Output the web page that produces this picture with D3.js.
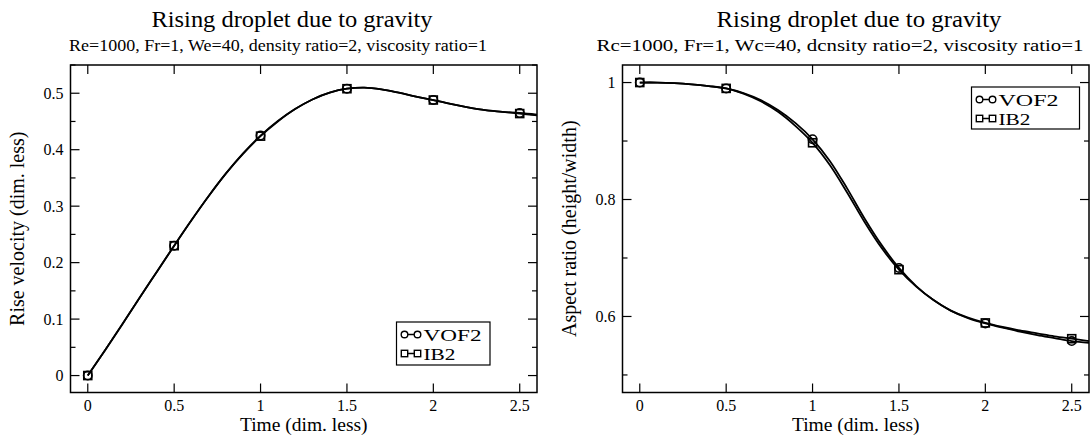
<!DOCTYPE html>
<html><head><meta charset="utf-8">
<script src="https://cdn.jsdelivr.net/npm/d3@7"></script>
<style>body{margin:0;background:#fff}svg{display:block}text{font-family:"Liberation Serif","Times New Roman",serif;fill:#000}</style>
</head><body><svg id="c" width="1090" height="446"></svg>
<script>
const title = "Rising droplet due to gravity";
const subtitleL = "Re=1000, Fr=1, We=40, density ratio=2, viscosity ratio=1";
const subtitleR = "Rc=1000, Fr=1, Wc=40, dcnsity ratio=2, viscosity ratio=1";
const xLabel = "Time (dim. less)";
const yLabelL = "Rise velocity (dim. less)";
const yLabelR = "Aspect ratio (height/width)";
const seriesNames = ["VOF2", "IB2"];

const time = [0,0.1,0.2,0.3,0.4,0.5,0.6,0.7,0.8,0.9,1.0,1.1,1.2,1.3,1.4,1.5,1.6,1.7,1.8,1.9,2.0,2.1,2.2,2.3,2.4,2.5,2.6];
const velVOF2 = [0,0.045,0.091,0.138,0.184,0.230,0.275,0.318,0.358,0.394,0.425,0.451,0.472,0.489,0.501,0.508,0.510,0.507,0.501,0.494,0.488,0.481,0.475,0.470,0.467,0.465,0.462];
const velIB2  = [0,0.045,0.091,0.138,0.184,0.230,0.275,0.318,0.358,0.393,0.424,0.450,0.472,0.489,0.501,0.508,0.510,0.507,0.501,0.494,0.488,0.481,0.475,0.470,0.467,0.464,0.461];
const arVOF2 = [1.0,1.0,0.999,0.997,0.994,0.990,0.982,0.970,0.953,0.931,0.903,0.866,0.819,0.768,0.722,0.683,0.652,0.628,0.610,0.597,0.588,0.581,0.574,0.568,0.563,0.558,0.555];
const arIB2  = [1.0,1.0,0.999,0.997,0.994,0.990,0.981,0.968,0.950,0.926,0.897,0.859,0.812,0.762,0.717,0.680,0.651,0.628,0.610,0.598,0.589,0.582,0.576,0.571,0.566,0.562,0.558];

const xTicks = [0,0.5,1,1.5,2,2.5];
const xTickLabels = ["0","0.5","1","1.5","2","2.5"];
const yTicksL = [0,0.1,0.2,0.3,0.4,0.5];
const yTickLabelsL = ["0","0.1","0.2","0.3","0.4","0.5"];
const yMinorL = [-0.05,0.05,0.15,0.25,0.35,0.45,0.55];
const yTicksR = [0.6,0.8,1.0];
const yTickLabelsR = ["0.6","0.8","1"];
const yMinorR = [0.5,0.7,0.9];
const markerTimes = [0,0.5,1,1.5,2,2.5];

const svg = d3.select("#c");

function panel(o){
  const g = svg.append("g");
  const x = d3.scaleLinear().domain([-0.1,2.6]).range([o.x0,o.x1]);
  const y = d3.scaleLinear().domain(o.ydom).range([o.y1,o.y0]);
  const major = 9, minor = 5;
  xTicks.forEach(v=>{
    g.append("line").attr("x1",x(v)).attr("x2",x(v)).attr("y1",o.y1).attr("y2",o.y1-major).attr("stroke","#000").attr("stroke-width",1.2);
    g.append("line").attr("x1",x(v)).attr("x2",x(v)).attr("y1",o.y0).attr("y2",o.y0+major).attr("stroke","#000").attr("stroke-width",1.2);
  });
  o.yTicks.forEach(v=>{
    g.append("line").attr("x1",o.x0).attr("x2",o.x0+major).attr("y1",y(v)).attr("y2",y(v)).attr("stroke","#000").attr("stroke-width",1.2);
    g.append("line").attr("x1",o.x1).attr("x2",o.x1-major).attr("y1",y(v)).attr("y2",y(v)).attr("stroke","#000").attr("stroke-width",1.2);
  });
  o.yMinor.filter(v=>v>=o.ydom[0]&&v<=o.ydom[1]).forEach(v=>{
    g.append("line").attr("x1",o.x0).attr("x2",o.x0+minor).attr("y1",y(v)).attr("y2",y(v)).attr("stroke","#000").attr("stroke-width",1.2);
    g.append("line").attr("x1",o.x1).attr("x2",o.x1-minor).attr("y1",y(v)).attr("y2",y(v)).attr("stroke","#000").attr("stroke-width",1.2);
  });
  xTicks.forEach((v,i)=>{
    g.append("text").attr("x",x(v)).attr("y",o.y1+18).attr("text-anchor","middle").attr("font-size",16).text(xTickLabels[i]);
  });
  o.yTicks.forEach((v,i)=>{
    g.append("text").attr("x",o.x0-7).attr("y",y(v)+5.5).attr("text-anchor","end").attr("font-size",16).text(o.yLabels[i]);
  });
  const clipId = "clip"+o.id;
  svg.append("clipPath").attr("id",clipId).append("rect").attr("x",o.x0).attr("y",o.y0).attr("width",o.x1-o.x0).attr("height",o.y1-o.y0);
  const line = d3.line().x((d,i)=>x(time[i])).y(d=>y(d)).curve(d3.curveCatmullRom);
  const dg = g.append("g").attr("clip-path",`url(#${clipId})`);
  o.series.forEach(s=>{
    dg.append("path").attr("d",line(s)).attr("fill","none").attr("stroke","#000").attr("stroke-width",1.8);
  });
  const idx = markerTimes.map(t=>time.findIndex(v=>Math.abs(v-t)<1e-9));
  idx.forEach(i=>{
    g.append("circle").attr("cx",x(time[i])).attr("cy",y(o.series[0][i])).attr("r",4.2).attr("fill","none").attr("stroke","#000").attr("stroke-width",1.6);
    g.append("rect").attr("x",x(time[i])-4).attr("y",y(o.series[1][i])-4).attr("width",8).attr("height",8).attr("fill","none").attr("stroke","#000").attr("stroke-width",1.6);
  });
  g.append("rect").attr("x",o.x0).attr("y",o.y0).attr("width",o.x1-o.x0).attr("height",o.y1-o.y0).attr("fill","none").attr("stroke","#000").attr("stroke-width",1.5);
  g.append("text").attr("x",o.tc).attr("y",27).attr("text-anchor","middle").attr("font-size",24)
    .attr("textLength",o.tw).attr("lengthAdjust","spacingAndGlyphs").text(title);
  g.append("text").attr("x",o.sc).attr("y",51).attr("text-anchor","middle").attr("font-size",17.5)
    .attr("textLength",o.sw).attr("lengthAdjust","spacingAndGlyphs").text(o.subtitle);
  g.append("text").attr("x",(o.x0+o.x1)/2).attr("y",431).attr("text-anchor","middle").attr("font-size",19.5).text(xLabel);
  g.append("text").attr("transform",`translate(${o.x0-47},${(o.y0+o.y1)/2}) rotate(-90)`).attr("text-anchor","middle").attr("font-size",20).text(o.yLabel);
  const L = o.leg;
  g.append("rect").attr("x",L.x).attr("y",L.y).attr("width",L.w).attr("height",L.h).attr("fill","#fff").attr("stroke","#000").attr("stroke-width",1.2);
  seriesNames.forEach((nm,k)=>{
    const cy = L.y + 12.5 + k*19;
    const sx0 = L.x+8, sx1 = L.x+21;
    g.append("line").attr("x1",sx0).attr("x2",sx1).attr("y1",cy).attr("y2",cy).attr("stroke","#000").attr("stroke-width",1.5);
    [sx0,sx1].forEach(sx=>{
      if(k===0) g.append("circle").attr("cx",sx).attr("cy",cy).attr("r",3.3).attr("fill","#fff").attr("stroke","#000").attr("stroke-width",1.4);
      else g.append("rect").attr("x",sx-3.2).attr("y",cy-3.2).attr("width",6.4).attr("height",6.4).attr("fill","#fff").attr("stroke","#000").attr("stroke-width",1.4);
    });
    g.append("text").attr("x",L.x+27).attr("y",cy+6).attr("font-size",16.5).attr("textLength",nm.length>3?o.lw1:o.lw2).attr("lengthAdjust","spacingAndGlyphs").text(nm);
  });
}

panel({id:"L", x0:70.5, x1:537, y0:65, y1:392.5, ydom:[-0.03,0.55], yTicks:yTicksL, yLabels:yTickLabelsL, yMinor:yMinorL,
  series:[velVOF2, velIB2], subtitle:subtitleL, tc:292, tw:281, sc:278, sw:418, yLabel:yLabelL,
  leg:{x:396.5,y:322,w:93.5,h:43}, lw1:58, lw2:32});
panel({id:"R", x0:622.5, x1:1089, y0:65, y1:392.5, ydom:[0.47,1.03], yTicks:yTicksR, yLabels:yTickLabelsR, yMinor:yMinorR,
  series:[arVOF2, arIB2], subtitle:subtitleR, tc:859, tw:285, sc:840, sw:487, yLabel:yLabelR,
  leg:{x:971.5,y:87,w:108,h:42}, lw1:60, lw2:32});
</script></body></html>
